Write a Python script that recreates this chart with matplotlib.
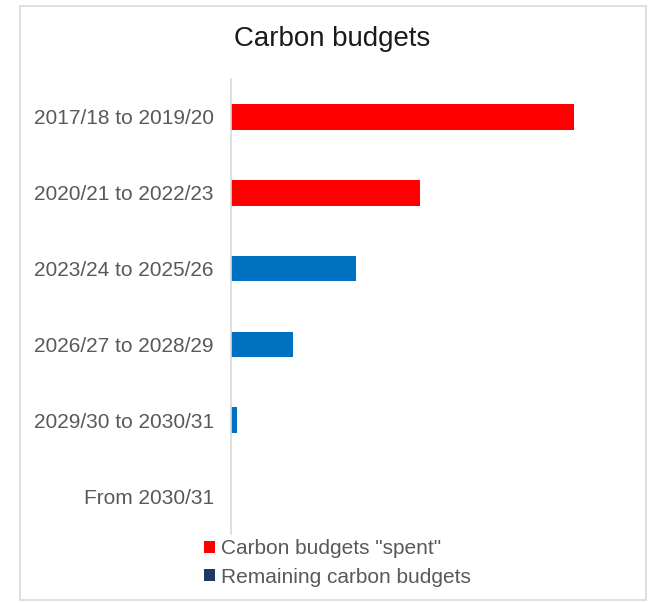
import matplotlib.pyplot as plt
from matplotlib.patches import Patch, Rectangle

periods = ["2017/18 to 2019/20", "2020/21 to 2022/23", "2023/24 to 2025/26",
           "2026/27 to 2028/29", "2029/30 to 2030/31", "From 2030/31"]
budget = [34.3, 18.9, 12.5, 6.2, 0.6, 0.0]
spent = [True, True, False, False, False, False]

RED = "#FF0000"
BLUE = "#0070C0"
NAVY = "#1F3864"
GREY = "#595959"

plt.rcParams['font.family'] = ['Liberation Sans', 'DejaVu Sans']

fig = plt.figure(figsize=(6.55, 6.03), dpi=100)
ax = fig.add_axes([231 / 655, 69 / 603, 380 / 655, 455 / 603])

colors = [RED if s else BLUE for s in spent]
ypos = list(range(len(periods)))
ax.barh(ypos, budget, height=0.34, color=colors)
ax.set_ylim(len(periods) - 0.5, -0.5)
ax.set_xlim(0, 38.0)
ax.set_yticks(ypos)
ax.set_yticklabels(periods, fontsize=15, color=GREY)
ax.tick_params(axis='y', length=0, pad=12.5)
ax.set_xticks([])
for side in ['top', 'right', 'bottom']:
    ax.spines[side].set_visible(False)
ax.spines['left'].set_color('#D9D9D9')
ax.spines['left'].set_linewidth(1.2)

fig.text(332 / 655, 1 - 39 / 603, "Carbon budgets", ha='center', va='center',
         fontsize=19.9, color='#1a1a1a')

handles = [Patch(facecolor=RED, label='Carbon budgets "spent"'),
           Patch(facecolor=NAVY, label="Remaining carbon budgets")]
fig.legend(handles=handles, loc='center left', bbox_to_anchor=(194 / 655, 1 - 563 / 603),
           frameon=False, fontsize=15, labelcolor=GREY, handlelength=0.5,
           handleheight=0.5, handletextpad=0.3, labelspacing=0.45, borderpad=0)

# light chart border
fig.patches.append(Rectangle((20 / 655, 3 / 603), 626 / 655, 594 / 603,
                             transform=fig.transFigure, fill=False,
                             edgecolor='#D9D9D9', linewidth=1.2))

fig.savefig("out.png", dpi=100)
